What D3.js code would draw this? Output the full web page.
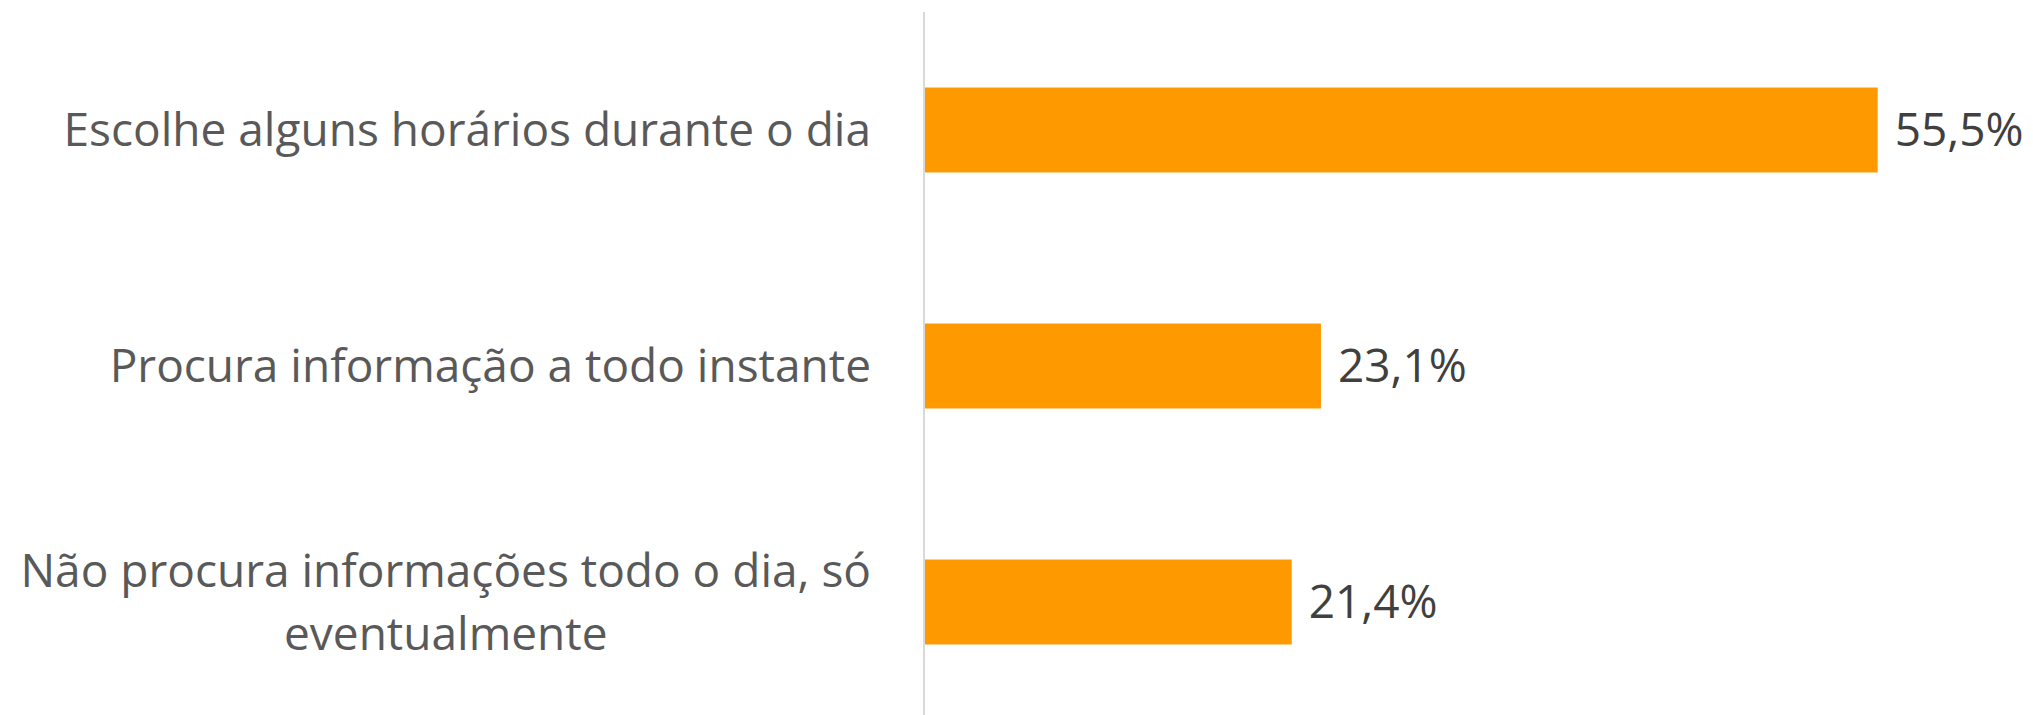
<!DOCTYPE html>
<html lang="pt">
<head>
<meta charset="UTF-8">
<title>Horários de procura de informação</title>
<style>
  body { margin: 0; background: #fff; }
  text { font-family: "Open Sans", "Noto Sans", sans-serif; }
</style>
</head>
<body>
<script src="https://d3js.org/d3.v7.min.js"></script>
<div id="chart"></div>
<script>
    const categories = [
        "Escolhe alguns horários durante o dia",
        "Procura informação a todo instante",
        "Não procura informações todo o dia, só eventualmente"
    ]
    const values = [55.5, 23.1, 21.4]

    const W = 2033, H = 715
    const MARGIN = { LEFT: 924, RIGHT: 78, TOP: 12, BOTTOM: -5 }

    const svg = d3.select("#chart").append("svg")
        .attr("width", W).attr("height", H)

    const g = svg.append("g")
        .attr("transform", `translate(${MARGIN.LEFT}, ${MARGIN.TOP})`)

    const innerW = W - MARGIN.LEFT - MARGIN.RIGHT
    const innerH = H - MARGIN.TOP - MARGIN.BOTTOM

    const x = d3.scaleLinear().domain([0, 60]).range([0, innerW])
    const y = d3.scaleBand().domain(categories).range([0, innerH])
        .paddingInner(0.64).paddingOuter(0.32)

    // bars
    g.selectAll("rect.bar").data(values).join("rect")
        .attr("class", "bar")
        .attr("x", 0)
        .attr("y", (d, i) => y(categories[i]))
        .attr("width", d => x(d))
        .attr("height", y.bandwidth())
        .attr("fill", "#ff9900")

    // vertical axis line
    g.append("line")
        .attr("x1", 0).attr("x2", 0)
        .attr("y1", 0).attr("y2", H)
        .attr("stroke", "#d9d9d9").attr("stroke-width", 2)

    // value labels
    g.selectAll("text.val").data(values).join("text")
        .attr("class", "val")
        .attr("x", d => x(d) + 17)
        .attr("y", (d, i) => y(categories[i]) + y.bandwidth() / 2)
        .attr("dy", "0.35em")
        .attr("font-size", 46)
        .attr("fill", "#404040")
        .text(d => d3.format(".1f")(d).replace(".", ",") + "%")

    // category labels, wrapped like the original
    const lines = [
        ["Escolhe alguns horários durante o dia"],
        ["Procura informação a todo instante"],
        ["Não procura informações todo o dia, só", "eventualmente"]
    ]
    const lineH = 63
    const labelRight = -53
    categories.forEach((c, i) => {
        const cy = y(c) + y.bandwidth() / 2
        const t = g.append("text")
            .attr("text-anchor", "middle")
            .attr("font-size", 46)
            .attr("fill", "#595959")
        const spans = lines[i].map((ln, j) => t.append("tspan")
            .attr("y", cy + (j - (lines[i].length - 1) / 2) * lineH)
            .attr("dy", "0.35em")
            .text(ln))
        const maxW = d3.max(spans, s => s.node().getComputedTextLength())
        spans.forEach(s => s.attr("x", labelRight - maxW / 2))
    })
</script>
</body>
</html>
